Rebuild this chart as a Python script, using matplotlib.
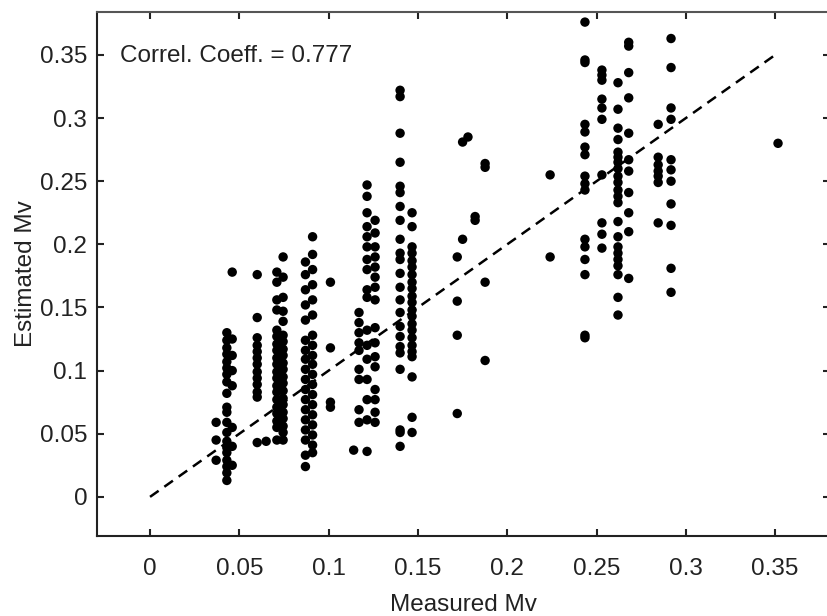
import matplotlib
matplotlib.use("Agg")
import matplotlib.pyplot as plt
import numpy as np

# ---- data: measured Mv (column x) and estimated Mv values ----
x_c01 = 0.037; y_c01 = [0.059, 0.045, 0.029]
x_c02 = 0.043; y_c02 = [0.130, 0.124, 0.118, 0.113, 0.107, 0.102, 0.097, 0.091, 0.082, 0.071,
                        0.067, 0.059, 0.051, 0.044, 0.039, 0.035, 0.029, 0.024, 0.019, 0.013]
x_c03 = 0.046; y_c03 = [0.178, 0.125, 0.112, 0.100, 0.088, 0.055, 0.040, 0.025]
x_c04 = 0.060; y_c04 = [0.176, 0.142, 0.126, 0.120, 0.115, 0.110, 0.105, 0.099, 0.094, 0.089,
                        0.083, 0.079, 0.043]
x_c05 = 0.065; y_c05 = [0.044]
x_c06 = 0.071; y_c06 = [0.178, 0.170, 0.156, 0.148, 0.132, 0.127, 0.121, 0.116, 0.110, 0.105,
                        0.099, 0.094, 0.088, 0.083, 0.077, 0.071, 0.066, 0.060, 0.055, 0.045]
x_c07 = 0.0745; y_c07 = [0.190, 0.174, 0.158, 0.147, 0.139, 0.128, 0.123, 0.117, 0.112, 0.106,
                         0.101, 0.095, 0.090, 0.084, 0.078, 0.073, 0.067, 0.062, 0.056, 0.051, 0.045]
x_c08 = 0.087; y_c08 = [0.186, 0.176, 0.164, 0.152, 0.140, 0.124, 0.116, 0.109, 0.101, 0.093,
                        0.085, 0.077, 0.069, 0.061, 0.053, 0.045, 0.033, 0.024]
x_c09 = 0.091; y_c09 = [0.206, 0.192, 0.180, 0.168, 0.156, 0.144, 0.128, 0.120, 0.112, 0.105,
                        0.097, 0.089, 0.081, 0.073, 0.065, 0.057, 0.049, 0.041, 0.035]
x_c10 = 0.101; y_c10 = [0.170, 0.118, 0.075, 0.071]
x_c11 = 0.114; y_c11 = [0.037]
x_c12 = 0.117; y_c12 = [0.146, 0.138, 0.130, 0.122, 0.116, 0.101, 0.093, 0.069, 0.059]
x_c13 = 0.1215; y_c13 = [0.247, 0.238, 0.225, 0.214, 0.206, 0.198, 0.188, 0.180, 0.164, 0.158,
                         0.132, 0.120, 0.109, 0.093, 0.077, 0.061, 0.036]
x_c14 = 0.126; y_c14 = [0.219, 0.209, 0.198, 0.190, 0.182, 0.174, 0.166, 0.156, 0.134, 0.122,
                        0.111, 0.103, 0.085, 0.077, 0.067, 0.059]
x_c15 = 0.140; y_c15 = [0.322, 0.317, 0.288, 0.265, 0.246, 0.241, 0.230, 0.219, 0.204, 0.193,
                        0.188, 0.177, 0.166, 0.156, 0.146, 0.135, 0.127, 0.119, 0.114, 0.101,
                        0.053, 0.051, 0.040]
x_c16 = 0.1467; y_c16 = [0.225, 0.214, 0.198, 0.193, 0.187, 0.182, 0.176, 0.170, 0.165, 0.159,
                         0.154, 0.148, 0.143, 0.137, 0.132, 0.126, 0.120, 0.115, 0.111, 0.095,
                         0.063, 0.051]
x_c17 = 0.172; y_c17 = [0.190, 0.155, 0.128, 0.066]
x_c18 = 0.175; y_c18 = [0.204, 0.281]
x_c19 = 0.178; y_c19 = [0.285]
x_c20 = 0.182; y_c20 = [0.219, 0.222]
x_c21 = 0.1876; y_c21 = [0.261, 0.264, 0.170, 0.108]
x_c22 = 0.224; y_c22 = [0.255, 0.190]
x_c23 = 0.2435; y_c23 = [0.376, 0.344, 0.346, 0.295, 0.289, 0.277, 0.271, 0.254, 0.248, 0.243,
                         0.204, 0.198, 0.188, 0.176, 0.128, 0.126]
x_c24 = 0.253; y_c24 = [0.338, 0.334, 0.330, 0.315, 0.308, 0.299, 0.255, 0.217, 0.208, 0.197]
x_c25 = 0.262; y_c25 = [0.328, 0.307, 0.292, 0.283, 0.273, 0.269, 0.265, 0.260, 0.254, 0.249,
                        0.243, 0.238, 0.233, 0.218, 0.206, 0.198, 0.193, 0.188, 0.183, 0.176,
                        0.158, 0.144]
x_c26 = 0.268; y_c26 = [0.360, 0.357, 0.336, 0.316, 0.288, 0.267, 0.258, 0.241, 0.225, 0.210, 0.173]
x_c27 = 0.2845; y_c27 = [0.295, 0.269, 0.263, 0.258, 0.254, 0.249, 0.217]
x_c28 = 0.2917; y_c28 = [0.363, 0.340, 0.308, 0.299, 0.267, 0.259, 0.250, 0.232, 0.215, 0.181, 0.162]
x_c29 = 0.3516; y_c29 = [0.280]

columns = [(x_c01, y_c01), (x_c02, y_c02), (x_c03, y_c03), (x_c04, y_c04), (x_c05, y_c05),
           (x_c06, y_c06), (x_c07, y_c07), (x_c08, y_c08), (x_c09, y_c09), (x_c10, y_c10),
           (x_c11, y_c11), (x_c12, y_c12), (x_c13, y_c13), (x_c14, y_c14), (x_c15, y_c15),
           (x_c16, y_c16), (x_c17, y_c17), (x_c18, y_c18), (x_c19, y_c19), (x_c20, y_c20),
           (x_c21, y_c21), (x_c22, y_c22), (x_c23, y_c23), (x_c24, y_c24), (x_c25, y_c25),
           (x_c26, y_c26), (x_c27, y_c27), (x_c28, y_c28), (x_c29, y_c29)]

ticks = [0, 0.05, 0.1, 0.15, 0.2, 0.25, 0.3, 0.35]
tick_labels = ["0", "0.05", "0.1", "0.15", "0.2", "0.25", "0.3", "0.35"]
one_to_one = [0, 0.35]
corr_text = "Correl. Coeff. = 0.777"

# ---- figure ----
plt.rcParams['font.family'] = ['Liberation Sans', 'DejaVu Sans']
fig = plt.figure(figsize=(8.28, 6.16), dpi=100)
ax = fig.add_axes([97/828, 1 - 536/616, (830 - 97)/828, (536 - 12)/616])

xs = np.concatenate([np.full(len(y), x) for x, y in columns])
ys = np.concatenate([np.asarray(y, float) for x, y in columns])
ax.scatter(xs, ys, s=46, c='black', edgecolors='none', zorder=3)

ax.plot(one_to_one, one_to_one, color='black', lw=1.8, linestyle=(0, (4.2, 2.8)), zorder=2)

ax.set_xlim(-0.0297, 0.3807)
ax.set_ylim(-0.031, 0.384)
ax.set_xticks(ticks)
ax.set_xticklabels(tick_labels)
ax.set_yticks(ticks)
ax.set_yticklabels(tick_labels)

for s in ax.spines.values():
    s.set_linewidth(1.5)
    s.set_color('#222222')
ax.spines['top'].set_color('#555555')

ax.tick_params(axis='both', direction='in', length=5, width=1.5, labelsize=17.5,
               colors='#222222', top=True, right=True)
ax.tick_params(axis='x', pad=16)
ax.tick_params(axis='y', pad=7)

ax.text(-0.0168, 0.349, corr_text, fontsize=17.5, va='center', ha='left', color='#222222')

ax.set_xlabel("Measured Mv", fontsize=17.5, color='#222222', labelpad=10)
ax.set_ylabel("Estimated Mv", fontsize=17.5, color='#222222', labelpad=2)

fig.savefig("out.png", dpi=100)
